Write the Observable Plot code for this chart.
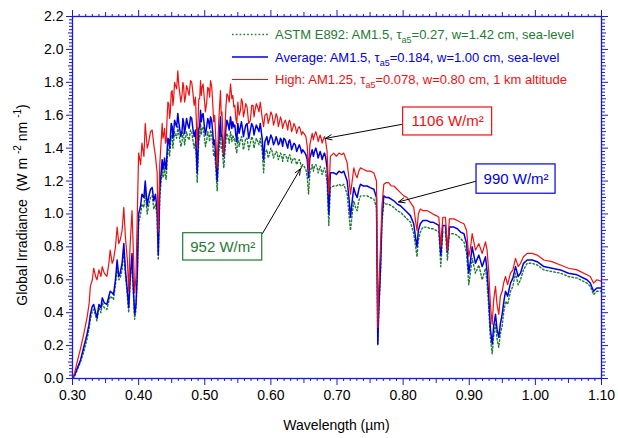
<!DOCTYPE html>
<html><head><meta charset="utf-8">
<script src="https://cdn.jsdelivr.net/npm/d3@7"></script>
<script src="https://cdn.jsdelivr.net/npm/@observablehq/plot@0.6"></script>
<style>body{margin:0;background:#fff;} svg{display:block;}</style>
</head><body><div id="chart"></div>
<script>
const wavelength = [
0.300,0.303,0.307,0.312,0.317,0.322,0.325,0.327,0.330,0.332,
0.335,0.337,0.340,0.343,0.345,0.348,0.352,0.355,0.357,0.360,
0.362,0.365,0.3675,0.370,0.372,0.375,0.3776,0.380,0.383,0.385,
0.387,0.390,0.392,0.394,0.396,0.398,0.400,0.403,0.405,0.408,
0.410,0.413,0.415,0.418,0.4205,0.423,0.4255,0.428,0.4297,0.432,
0.4356,0.438,0.4406,0.443,0.4457,0.448,0.4507,0.453,0.4558,0.4593,
0.462,0.4658,0.468,0.471,0.474,0.4785,0.482,0.486,0.4886,0.491,
0.4936,0.496,0.499,0.503,0.506,0.5087,0.512,0.515,0.5188,0.521,
0.5238,0.526,0.5288,0.532,0.535,0.539,0.541,0.544,0.547,0.550,
0.554,0.557,0.560,0.564,0.569,0.573,0.576,0.580,0.584,0.587,
0.589,0.591,0.594,0.598,0.602,0.606,0.6096,0.613,0.616,0.6196,
0.624,0.627,0.6297,0.633,0.637,0.641,0.6448,0.648,0.650,0.653,
0.655,0.657,0.659,0.6625,0.666,0.670,0.673,0.676,0.679,0.6826,
0.685,0.6876,0.690,0.6951,0.699,0.703,0.707,0.7103,0.7154,0.718,
0.7204,0.723,0.7254,0.728,0.7305,0.733,0.7355,0.740,0.7456,0.750,
0.7557,0.7597,0.7617,0.763,0.7658,0.768,0.7708,0.774,0.778,0.782,
0.786,0.791,0.796,0.801,0.806,0.811,0.816,0.819,0.821,0.823,
0.826,0.830,0.8364,0.841,0.845,0.850,0.854,0.857,0.860,0.864,
0.867,0.870,0.8767,0.882,0.8868,0.892,0.896,0.8993,0.902,0.9044,
0.9094,0.9145,0.9196,0.9246,0.927,0.9296,0.932,0.9347,0.937,0.9397,
0.942,0.9447,0.947,0.9498,0.952,0.9548,0.958,0.9624,0.966,0.970,
0.974,0.9775,0.982,0.9876,0.995,1.0027,1.0128,1.025,1.038,1.050,
1.063,1.078,1.083,1.088,1.093,1.100];

const high = [
0.00,0.03,0.10,0.18,0.27,0.37,0.45,0.56,0.60,0.67,
0.62,0.60,0.66,0.62,0.68,0.64,0.62,0.70,0.78,0.70,
0.72,0.80,0.92,0.82,0.84,0.90,1.04,0.86,0.72,0.53,
0.80,1.02,0.78,0.52,0.62,1.00,1.37,1.30,1.43,1.35,
1.55,1.40,1.43,1.50,1.51,1.42,1.35,1.25,0.89,1.30,
1.55,1.48,1.43,1.58,1.67,1.62,1.75,1.70,1.78,1.87,
1.74,1.73,1.78,1.71,1.76,1.81,1.74,1.71,1.41,1.70,
1.81,1.77,1.72,1.68,1.76,1.81,1.68,1.60,1.28,1.55,
1.75,1.62,1.36,1.65,1.72,1.79,1.70,1.65,1.58,1.68,
1.63,1.68,1.62,1.65,1.57,1.66,1.63,1.65,1.68,1.58,
1.53,1.60,1.61,1.58,1.60,1.57,1.59,1.56,1.57,1.55,
1.54,1.56,1.55,1.52,1.53,1.52,1.51,1.50,1.49,1.47,
1.41,1.26,1.42,1.49,1.48,1.47,1.46,1.46,1.45,1.45,
1.38,1.12,1.35,1.37,1.35,1.37,1.36,1.37,1.31,1.22,
1.12,1.20,1.28,1.24,1.22,1.26,1.28,1.27,1.26,1.26,
1.25,1.20,0.31,0.55,0.80,1.05,1.18,1.19,1.19,1.17,
1.17,1.15,1.13,1.11,1.10,1.07,1.04,0.95,0.90,1.00,
1.03,1.02,1.02,1.01,1.00,0.99,0.98,0.80,0.98,0.98,
0.78,0.97,0.97,0.96,0.95,0.94,0.90,0.74,0.80,0.88,
0.78,0.82,0.76,0.83,0.78,0.64,0.45,0.33,0.48,0.56,
0.45,0.39,0.50,0.53,0.58,0.62,0.57,0.64,0.66,0.73,
0.68,0.70,0.74,0.76,0.76,0.75,0.72,0.71,0.69,0.67,
0.66,0.63,0.62,0.58,0.60,0.59];

const average = [
0.00,0.02,0.06,0.11,0.19,0.27,0.33,0.39,0.44,0.45,
0.40,0.37,0.45,0.43,0.49,0.46,0.45,0.50,0.53,0.52,
0.51,0.60,0.72,0.62,0.64,0.70,0.82,0.66,0.53,0.43,
0.60,0.76,0.55,0.39,0.45,0.64,1.00,1.05,1.12,1.10,
1.20,1.05,1.10,1.15,1.16,1.08,1.12,1.02,0.75,1.15,
1.33,1.30,1.28,1.38,1.45,1.47,1.53,1.50,1.55,1.61,
1.52,1.51,1.56,1.53,1.55,1.59,1.52,1.51,1.25,1.52,
1.63,1.60,1.55,1.53,1.56,1.59,1.50,1.45,1.20,1.42,
1.59,1.48,1.35,1.52,1.55,1.59,1.52,1.53,1.48,1.55,
1.53,1.52,1.50,1.55,1.51,1.53,1.51,1.52,1.55,1.45,
1.33,1.44,1.47,1.45,1.46,1.44,1.45,1.43,1.45,1.46,
1.42,1.44,1.43,1.41,1.42,1.40,1.40,1.39,1.38,1.36,
1.33,1.22,1.34,1.39,1.38,1.37,1.36,1.36,1.35,1.35,
1.28,1.00,1.25,1.25,1.24,1.26,1.25,1.26,1.20,1.10,
0.98,1.08,1.16,1.12,1.10,1.15,1.18,1.17,1.17,1.16,
1.15,1.10,0.21,0.40,0.68,0.98,1.11,1.10,1.10,1.09,
1.08,1.06,1.05,1.03,1.01,0.99,0.94,0.85,0.80,0.90,
0.94,0.96,0.96,0.95,0.95,0.94,0.93,0.75,0.93,0.93,
0.77,0.92,0.92,0.91,0.89,0.88,0.82,0.64,0.72,0.80,
0.70,0.75,0.68,0.74,0.65,0.49,0.30,0.21,0.32,0.39,
0.30,0.25,0.33,0.39,0.46,0.53,0.50,0.58,0.61,0.68,
0.62,0.64,0.70,0.72,0.72,0.71,0.68,0.67,0.66,0.64,
0.63,0.60,0.58,0.53,0.55,0.55];

const astm = [
0.00,0.01,0.05,0.10,0.16,0.24,0.30,0.36,0.41,0.42,
0.38,0.35,0.43,0.40,0.46,0.43,0.42,0.47,0.50,0.49,
0.48,0.57,0.68,0.60,0.61,0.66,0.78,0.63,0.50,0.40,
0.57,0.72,0.52,0.36,0.42,0.62,0.95,1.00,1.06,1.04,
1.14,1.00,1.05,1.10,1.11,1.03,1.06,0.98,0.72,1.10,
1.27,1.24,1.22,1.32,1.39,1.41,1.46,1.44,1.48,1.53,
1.46,1.44,1.49,1.46,1.47,1.51,1.45,1.44,1.19,1.45,
1.55,1.52,1.48,1.45,1.48,1.51,1.43,1.38,1.14,1.36,
1.50,1.41,1.28,1.45,1.47,1.50,1.44,1.45,1.40,1.47,
1.45,1.44,1.42,1.46,1.43,1.45,1.43,1.44,1.46,1.38,
1.25,1.37,1.39,1.37,1.38,1.36,1.37,1.35,1.36,1.36,
1.34,1.35,1.34,1.33,1.33,1.32,1.31,1.30,1.29,1.27,
1.22,1.12,1.25,1.30,1.29,1.28,1.27,1.27,1.26,1.26,
1.19,0.93,1.16,1.17,1.17,1.18,1.17,1.18,1.12,1.00,
0.90,1.00,1.08,1.04,1.02,1.08,1.11,1.11,1.11,1.10,
1.09,1.04,0.20,0.38,0.64,0.94,1.07,1.06,1.06,1.05,
1.04,1.02,1.01,0.99,0.97,0.95,0.88,0.80,0.74,0.84,
0.89,0.92,0.92,0.91,0.91,0.90,0.89,0.68,0.89,0.89,
0.72,0.88,0.88,0.87,0.85,0.83,0.76,0.57,0.65,0.73,
0.64,0.69,0.60,0.67,0.58,0.42,0.24,0.15,0.26,0.33,
0.24,0.19,0.27,0.32,0.40,0.47,0.45,0.53,0.56,0.64,
0.57,0.60,0.66,0.70,0.70,0.69,0.66,0.65,0.64,0.62,
0.61,0.58,0.56,0.51,0.53,0.53];

// Extra read-off samples for the fine Fraunhofer-line structure, 0.43-0.69 µm
const detailWavelength = [
0.4368,0.4393,0.4418,0.4443,0.4468,0.4493,0.4518,0.4544,0.4575,0.4606,
0.4639,0.4669,0.4695,0.4725,0.4763,0.4803,0.4840,0.4923,0.4948,0.4975,
0.5010,0.5045,0.5074,0.5104,0.5135,0.5249,0.5335,0.5370,0.5425,0.5455,
0.5485,0.5520,0.5555,0.5585,0.5620,0.5665,0.5710,0.5745,0.5780,0.5820,
0.5960,0.6000,0.6040,0.6080,0.6113,0.6145,0.6178,0.6218,0.6255,0.6284,
0.6314,0.6350,0.6390,0.6430,0.6464,0.6643,0.6680,0.6715,0.6745,0.6775,
0.6810];
const detailHigh = [
1.46,1.52,1.44,1.68,1.58,1.74,1.66,1.80,1.76,1.79,
1.68,1.80,1.68,1.78,1.72,1.80,1.66,1.70,1.72,1.79,
1.62,1.77,1.71,1.78,1.56,1.60,1.73,1.68,1.72,1.66,
1.55,1.60,1.70,1.59,1.67,1.55,1.66,1.59,1.67,1.62,
1.55,1.62,1.54,1.61,1.53,1.59,1.52,1.57,1.51,1.57,
1.50,1.55,1.49,1.53,1.48,1.45,1.50,1.44,1.48,1.43,
1.47];
const detailAverage = [
1.27,1.34,1.27,1.46,1.40,1.55,1.46,1.57,1.53,1.56,
1.47,1.58,1.49,1.58,1.52,1.58,1.47,1.53,1.56,1.61,
1.48,1.58,1.52,1.57,1.42,1.47,1.57,1.51,1.56,1.54,
1.44,1.49,1.56,1.47,1.54,1.46,1.55,1.48,1.54,1.50,
1.42,1.48,1.42,1.47,1.42,1.46,1.41,1.45,1.40,1.45,
1.39,1.43,1.38,1.42,1.37,1.35,1.40,1.34,1.38,1.33,
1.37];
const detailAstm = [
1.22,1.28,1.21,1.40,1.35,1.48,1.40,1.50,1.46,1.49,
1.41,1.50,1.42,1.50,1.45,1.50,1.40,1.46,1.48,1.53,
1.41,1.50,1.44,1.49,1.35,1.40,1.49,1.43,1.48,1.46,
1.37,1.41,1.47,1.39,1.46,1.39,1.47,1.40,1.46,1.42,
1.34,1.40,1.34,1.38,1.33,1.37,1.32,1.36,1.32,1.36,
1.31,1.34,1.30,1.33,1.28,1.26,1.30,1.25,1.29,1.24,
1.28];

// Annotation boxes (integrated irradiance) and their arrows, in data units
const annoLabel = ["1106 W/m²", "990 W/m²", "952 W/m²"];
const annoSeries = ["high", "average", "astm"];
const annoBoxX = [[0.800, 0.9346], [0.9110, 1.0305], [0.4674, 0.5869]];
const annoBoxY = [[1.477, 1.647], [1.123, 1.301], [0.717, 0.883]];
const annoTail = [[0.7975, 1.544], [0.9095, 1.198], [0.5873, 0.881]];
const annoTip  = [[0.6826, 1.459], [0.793, 1.073], [0.6448, 1.275]];

const legendParts = [
  ["ASTM E892: AM1.5, τ", "a5", "=0.27, w=1.42 cm, sea-level"],
  ["Average: AM1.5, τ", "a5", "=0.184, w=1.00 cm, sea-level"],
  ["High: AM1.25, τ", "a5", "=0.078, w=0.80 cm, 1 km altitude"]
];

const AXIS = "#1a1ad8";
const COLORS = {astm: "#1f7a33", average: "#0000e0", high: "#ee1111"};
const FONT = "'Liberation Sans', Arial, Helvetica, sans-serif";

const data = wavelength.map((w, i) => ({w, astm: astm[i], average: average[i], high: high[i]}))
  .concat(detailWavelength.map((w, i) => ({w, astm: detailAstm[i], average: detailAverage[i], high: detailHigh[i]})))
  .sort((a, b) => a.w - b.w);

const annos = annoLabel.map((label, i) => ({
  label, color: COLORS[annoSeries[i]],
  bx1: annoBoxX[i][0], bx2: annoBoxX[i][1], by1: annoBoxY[i][0], by2: annoBoxY[i][1],
  cx: (annoBoxX[i][0] + annoBoxX[i][1]) / 2, cy: (annoBoxY[i][0] + annoBoxY[i][1]) / 2,
  tx: annoTail[i][0], ty: annoTail[i][1], hx: annoTip[i][0], hy: annoTip[i][1]
}));

const xMajor = d3.range(3, 12).map(d => d / 10);
const xMid = d3.range(35, 111, 10).map(d => d / 100);
const xMinor = d3.range(30, 111).filter(d => d % 5 !== 0).map(d => d / 100);
const yMajor = d3.range(0, 12).map(d => d / 5);
const yMid = d3.range(1, 22, 2).map(d => d / 10);
const yMinor = d3.range(0, 111).filter(d => d % 5 !== 0).map(d => d / 50);
const blank = () => "";

const axes = [];
for (const anchor of ["bottom", "top"]) {
  axes.push(Plot.axisX({anchor, ticks: xMinor, tickSize: 3, tickFormat: blank, stroke: AXIS, label: null}));
  axes.push(Plot.axisX({anchor, ticks: xMid, tickSize: 5, tickFormat: blank, stroke: AXIS, label: null}));
  axes.push(Plot.axisX({anchor, ticks: xMajor, tickSize: 7, tickPadding: 5,
    tickFormat: anchor === "bottom" ? d3.format(".2f") : blank, stroke: AXIS, color: "black", label: null}));
}
for (const anchor of ["left", "right"]) {
  axes.push(Plot.axisY({anchor, ticks: yMinor, tickSize: 3, tickFormat: blank, stroke: AXIS, label: null}));
  axes.push(Plot.axisY({anchor, ticks: yMid, tickSize: 4, tickFormat: blank, stroke: AXIS, label: null}));
  axes.push(Plot.axisY({anchor, ticks: yMajor, tickSize: 6, tickPadding: 3,
    tickFormat: anchor === "left" ? d3.format(".1f") : blank, stroke: AXIS, color: "black", label: null}));
}

const chart = Plot.plot({
  width: 618, height: 438,
  marginLeft: 72, marginRight: 17, marginTop: 16, marginBottom: 60,
  style: {fontFamily: FONT, fontSize: "14px", background: "white", color: "black"},
  x: {domain: [0.3, 1.1]},
  y: {domain: [0, 2.2]},
  marks: [
    Plot.line(data, {x: "w", y: "astm", stroke: COLORS.astm, strokeWidth: 1.4, strokeDasharray: "1.6,2.2"}),
    Plot.line(data, {x: "w", y: "average", stroke: COLORS.average, strokeWidth: 1.5}),
    Plot.line(data, {x: "w", y: "high", stroke: COLORS.high, strokeWidth: 1.2}),
    Plot.arrow(annos, {x1: "tx", y1: "ty", x2: "hx", y2: "hy", stroke: "black", strokeWidth: 1, headLength: 10, headAngle: 45}),
    Plot.rect(annos, {x1: "bx1", x2: "bx2", y1: "by1", y2: "by2", fill: "white", stroke: d => d.color, strokeWidth: 1.2}),
    Plot.text(annos, {x: "cx", y: "cy", text: "label", fill: d => d.color, fontSize: 15}),
    ...axes,
    Plot.frame({stroke: AXIS, strokeWidth: 1.3})
  ]
});
document.getElementById("chart").appendChild(chart);

// Legend and axis titles
const svg = d3.select(chart);
const leg = svg.append("g").attr("font-family", FONT).attr("font-size", 13).attr("text-anchor", "start");
const legKeys = ["astm", "average", "high"];
legKeys.forEach((k, i) => {
  const y = 34.5 + i * 22.5;
  leg.append("line").attr("x1", 232).attr("x2", 268).attr("y1", y).attr("y2", y)
    .attr("stroke", COLORS[k]).attr("stroke-width", k === "high" ? 1.2 : 1.5)
    .attr("stroke-dasharray", k === "astm" ? "1.6,2.2" : null);
  const t = leg.append("text").attr("x", 275).attr("y", y + 4.5).attr("fill", COLORS[k]).attr("text-anchor", "start");
  t.append("tspan").text(legendParts[i][0]);
  t.append("tspan").attr("font-size", 9).attr("dy", 4).text(legendParts[i][1]);
  t.append("tspan").attr("dy", -4).text(legendParts[i][2]);
});

svg.append("text").attr("x", 336.5).attr("y", 430).attr("text-anchor", "middle")
  .attr("font-family", FONT).attr("font-size", 14).attr("fill", "black").text("Wavelength (µm)");

const yt = svg.append("text").attr("transform", "translate(27,205) rotate(-90)")
  .attr("text-anchor", "middle").attr("font-family", FONT).attr("font-size", 14).attr("fill", "black");
yt.append("tspan").text("Global Irradiance  (W m ");
yt.append("tspan").attr("font-size", 10).attr("dy", -6).text("-2");
yt.append("tspan").attr("dy", 6).text(" nm ");
yt.append("tspan").attr("font-size", 10).attr("dy", -6).text("-1");
yt.append("tspan").attr("dy", 6).text(")");
</script>
</body></html>
